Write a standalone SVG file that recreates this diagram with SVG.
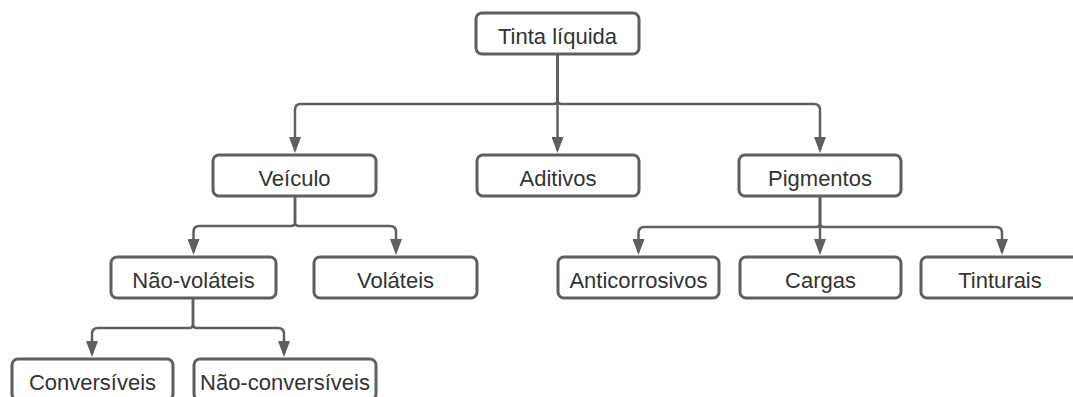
<svg xmlns="http://www.w3.org/2000/svg" width="1073" height="397" viewBox="0 0 1073 397">
<style>
.box{fill:#ffffff;stroke:#5f5f5f;stroke-width:3}
.lbl{font-family:"Liberation Sans",Arial,sans-serif;font-size:22px;fill:#333333;text-anchor:middle}
.conn{fill:none;stroke:#5f5f5f;stroke-width:2.5;marker-end:url(#arr)}
</style>
<defs>
<marker id="arr" markerUnits="userSpaceOnUse" markerWidth="16" markerHeight="12" viewBox="0 0 16 12" refX="13" refY="6" orient="auto">
<path d="M0,0 L16,6 L0,12 z" fill="#5f5f5f"/>
</marker>
</defs>
<rect width="1073" height="397" fill="#ffffff"/>
<g id="connectors">
<path class="conn" d="M557.5,55 V100 Q557.5,104 553.5,104 H301 Q295,104 295,110 V150"/>
<path class="conn" d="M557.5,55 V150"/>
<path class="conn" d="M557.5,55 V100 Q557.5,104 561.5,104 H814 Q820,104 820,110 V150"/>
<path class="conn" d="M295,197 V222 Q295,226 291,226 H199.5 Q193.5,226 193.5,232 V252"/>
<path class="conn" d="M295,197 V222 Q295,226 299,226 H390 Q396,226 396,232 V252"/>
<path class="conn" d="M820,196 V223 Q820,227 816,227 H644.5 Q638.5,227 638.5,233 V252"/>
<path class="conn" d="M820,196 V252"/>
<path class="conn" d="M820,196 V223 Q820,227 824,227 H996 Q1002,227 1002,233 V252"/>
<path class="conn" d="M193,298 V324 Q193,328 189,328 H98 Q92,328 92,334 V354"/>
<path class="conn" d="M193,298 V324 Q193,328 197,328 H278 Q284,328 284,334 V354"/>
</g>
<g id="tinta-liquida"><rect class="box" x="476" y="13" width="163" height="41" rx="6"/><text class="lbl" x="557.5" y="44">Tinta líquida</text></g>
<g id="veiculo"><rect class="box" x="213" y="155" width="163" height="41" rx="6"/><text class="lbl" x="294.5" y="186">Veículo</text></g>
<g id="aditivos"><rect class="box" x="477" y="155" width="162" height="41" rx="6"/><text class="lbl" x="558" y="186">Aditivos</text></g>
<g id="pigmentos"><rect class="box" x="739" y="155" width="162" height="41" rx="6"/><text class="lbl" x="820" y="186">Pigmentos</text></g>
<g id="nao-volateis"><rect class="box" x="111" y="257" width="165" height="41" rx="6"/><text class="lbl" x="193.5" y="288">Não-voláteis</text></g>
<g id="volateis"><rect class="box" x="314" y="257" width="163" height="41" rx="6"/><text class="lbl" x="395.5" y="288">Voláteis</text></g>
<g id="anticorrosivos"><rect class="box" x="558" y="257" width="161" height="41" rx="6"/><text class="lbl" x="638.5" y="288">Anticorrosivos</text></g>
<g id="cargas"><rect class="box" x="740" y="257" width="161" height="41" rx="6"/><text class="lbl" x="820.5" y="288">Cargas</text></g>
<g id="tinturais"><rect class="box" x="921" y="257" width="162" height="41" rx="6"/><text class="lbl" x="1000" y="288">Tinturais</text></g>
<g id="conversiveis"><rect class="box" x="12" y="359" width="161" height="41" rx="6"/><text class="lbl" x="92.5" y="390">Conversíveis</text></g>
<g id="nao-conversiveis"><rect class="box" x="194" y="359" width="182" height="41" rx="6"/><text class="lbl" x="285" y="390">Não-conversíveis</text></g>
</svg>
